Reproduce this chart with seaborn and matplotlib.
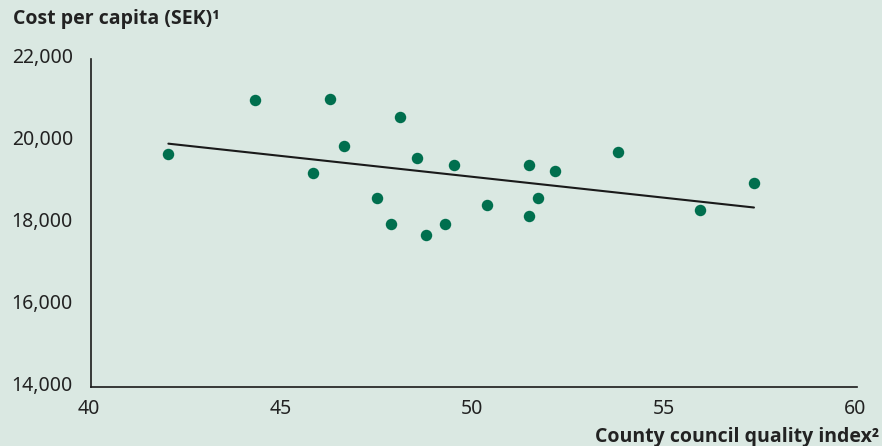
import matplotlib
matplotlib.use("Agg")
import matplotlib.pyplot as plt
import matplotlib.transforms as mtransforms
import seaborn as sns
import pandas as pd

quality_index = [42.02, 44.28, 46.23, 48.08, 46.60, 48.50, 49.47, 45.80, 47.46, 47.83,
                 48.74, 49.23, 50.34, 51.44, 52.12, 51.68, 51.44, 53.76, 55.91, 57.31]
cost_per_capita = [19683, 21000, 21032, 20578, 19885, 19593, 19422, 19220, 18617, 17976,
                   17700, 17976, 18446, 19422, 19276, 18610, 18178, 19739, 18324, 18968]
x_ticks = [40, 45, 50, 55, 60]
y_ticks = [14000, 16000, 18000, 20000, 22000]
y_label = "Cost per capita (SEK)\u00b9"
x_label = "County council quality index\u00b2"

df = pd.DataFrame({"quality": quality_index, "cost": cost_per_capita})

bg = "#dae8e2"
green = "#006f4e"
sns.set_theme(style="white")
plt.rcParams["font.family"] = ["Noto Sans", "DejaVu Sans"]

fig = plt.figure(figsize=(8.82, 4.46), dpi=100, facecolor=bg)
ax = fig.add_axes([91/882, 1 - 387/446, (857 - 91)/882, (387 - 59)/446])
ax.set_facecolor(bg)

sns.regplot(data=df, x="quality", y="cost", ax=ax, ci=None,
            scatter_kws=dict(s=68, color=green, linewidths=0, alpha=1, zorder=3),
            line_kws=dict(color="#1a1a1a", lw=1.5, zorder=2))

ax.set_xlim(40, 60)
ax.set_ylim(14000, 22000)
ax.set_xticks(x_ticks)
ax.set_yticks(y_ticks)
ax.set_xticklabels([str(t) for t in x_ticks])
ax.set_yticklabels([f"{t:,}" for t in y_ticks])
ax.tick_params(axis="both", length=0, labelsize=14, colors="#222222")
ax.tick_params(axis="y", pad=13)
ax.tick_params(axis="x", pad=9)
for lab in ax.get_yticklabels():
    lab.set_transform(lab.get_transform() + mtransforms.ScaledTranslation(0, 3/100, fig.dpi_scale_trans))
for lab in ax.get_xticklabels():
    lab.set_transform(lab.get_transform() + mtransforms.ScaledTranslation(-2/100, 0, fig.dpi_scale_trans))

ax.set_xlabel("")
ax.set_ylabel("")
for s in ["top", "right"]:
    ax.spines[s].set_visible(False)
for s in ["left", "bottom"]:
    ax.spines[s].set_color("#1a1a1a")
    ax.spines[s].set_linewidth(1.2)

bold_family = ["Open Sans", "DejaVu Sans"]
fig.text(13/882, 1 - 19/446, y_label, ha="left", va="center", fontsize=14,
         fontweight="bold", color="#222222", family=bold_family)
fig.text(879/882, 1 - 437/446, x_label, ha="right", va="center", fontsize=14,
         fontweight="bold", color="#222222", family=bold_family)

fig.savefig("out.png", dpi=100, facecolor=bg)
